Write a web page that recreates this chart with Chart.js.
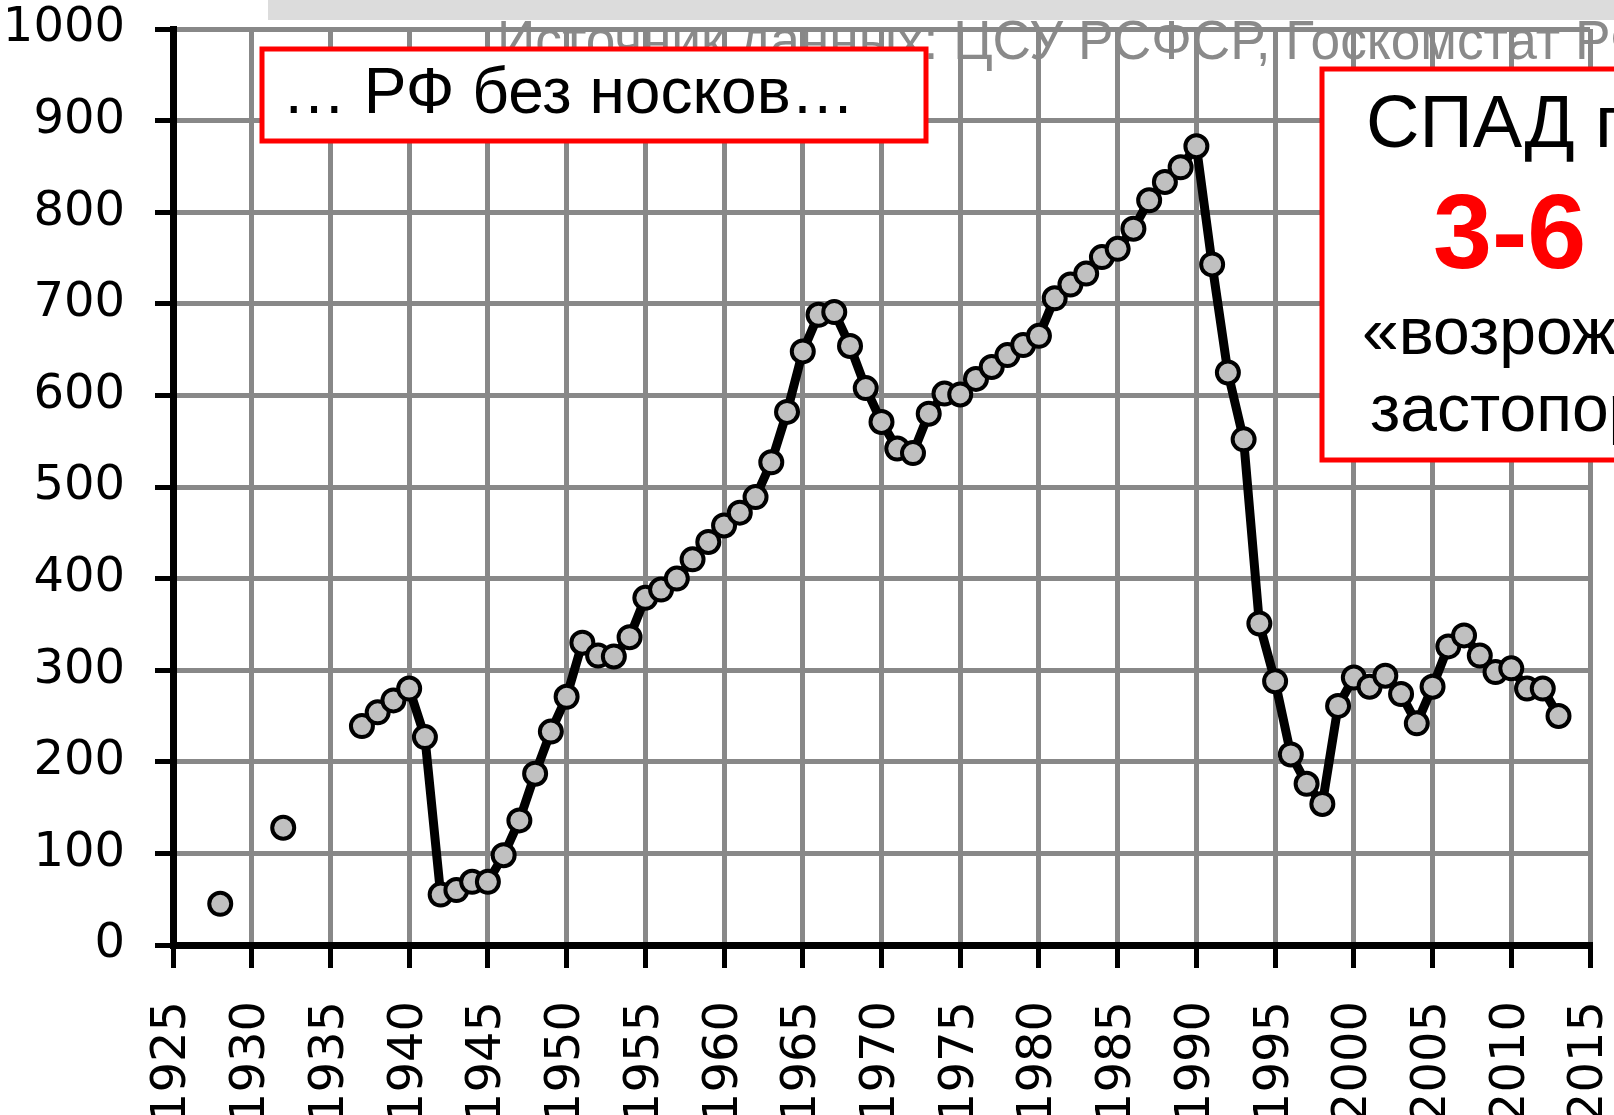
<!DOCTYPE html>
<html>
<head>
<meta charset="utf-8">
<script src="https://cdn.jsdelivr.net/npm/chart.js@4/dist/chart.umd.min.js"></script>
<style>
  html, body { margin: 0; padding: 0; background: #fff; }
  #wrap { width: 1614px; height: 1115px; }
</style>
</head>
<body>
<div id="wrap"><canvas id="chart"></canvas></div>
<script>
// Years and values (null = no data)
const years = [
  1928, 1929, 1930, 1931, 1932, 1933, 1934, 1935, 1936, 1937, 1938, 1939,
  1940, 1941, 1942, 1943, 1944, 1945, 1946, 1947, 1948, 1949, 1950, 1951,
  1952, 1953, 1954, 1955, 1956, 1957, 1958, 1959, 1960, 1961, 1962, 1963,
  1964, 1965, 1966, 1967, 1968, 1969, 1970, 1971, 1972, 1973, 1974, 1975,
  1976, 1977, 1978, 1979, 1980, 1981, 1982, 1983, 1984, 1985, 1986, 1987,
  1988, 1989, 1990, 1991, 1992, 1993, 1994, 1995, 1996, 1997, 1998, 1999,
  2000, 2001, 2002, 2003, 2004, 2005, 2006, 2007, 2008, 2009, 2010, 2011,
  2012, 2013
];
const values = [
  45, null, null, null, 128, null, null, null, null, 239, 254, 267,
  280, 227, 55, 60, 69, 69, 98, 136, 187, 233, 271, 330,
  316, 315, 336, 379, 388, 400, 421, 440, 458, 472, 489, 527,
  582, 648, 688, 691, 654, 608, 571, 542, 537, 580, 602, 601,
  618, 631, 644, 655, 665, 706, 721, 733, 751, 760, 782, 813,
  833, 849, 872, 743, 625, 552, 351, 288, 208, 176, 154, 261,
  292, 282, 294, 274, 242, 282, 326, 338, 316, 298, 302, 280,
  280, 250
];
const xTicks = [1925, 1930, 1935, 1940, 1945, 1950, 1955, 1960, 1965, 1970,
  1975, 1980, 1985, 1990, 1995, 2000, 2005, 2010, 2015];
const yTicks = [0, 100, 200, 300, 400, 500, 600, 700, 800, 900, 1000];

const sourceText = 'Источник данных: ЦСУ РСФСР, Госкомстат РФ';
const leftNote = '… РФ без носков…';
const rightNote = ['СПАД производства', '3-6 раз', '«возрождение»', 'застопорилось'];

// Build point list for the line
const points = years.map((y, i) => ({ x: y, y: values[i] }));

const tickFont = { family: '"DejaVu Sans", Verdana, sans-serif', size: 48, lineHeight: 1.2 };

// Gray band, source line and the two red boxes
const notes = {
  id: 'notes',
  beforeDraw(chart) {
    const ctx = chart.ctx;
    ctx.save();
    ctx.fillStyle = '#dcdcdc';
    ctx.fillRect(268, 0, 1400, 20);

    ctx.font = '56px "Liberation Sans", Arial, sans-serif';
    const lead = 'Источник данных: ЦСУ РСФСР, Госкомстат ';
    const sx = 1078 / ctx.measureText(lead).width;
    ctx.translate(497, 59);
    ctx.scale(sx, 1);
    ctx.fillStyle = '#8a8a8a';
    ctx.textBaseline = 'alphabetic';
    ctx.fillText(sourceText, 0, 0);
    ctx.restore();
  },
  afterDraw(chart) {
    const ctx = chart.ctx;
    ctx.save();
    ctx.lineWidth = 5;
    ctx.strokeStyle = '#ff0000';
    ctx.fillStyle = '#fff';

    // left box
    ctx.fillRect(262, 49, 664, 92);
    ctx.strokeRect(262, 49, 664, 92);
    ctx.fillStyle = '#000';
    ctx.textBaseline = 'alphabetic';
    ctx.font = '64px "Liberation Sans", Arial, sans-serif';
    ctx.fillText(leftNote, 282, 113);

    // right box
    ctx.fillStyle = '#fff';
    ctx.fillRect(1322, 69, 400, 391);
    ctx.strokeRect(1322, 69, 400, 391);
    ctx.fillStyle = '#000';
    ctx.font = '74px "Liberation Sans", Arial, sans-serif';
    ctx.fillText(rightNote[0], 1366, 147);
    ctx.fillStyle = '#ff0000';
    ctx.font = 'bold 106px "Liberation Sans", Arial, sans-serif';
    ctx.fillText(rightNote[1], 1433, 268);
    ctx.fillStyle = '#000';
    ctx.font = '66px "Liberation Sans", Arial, sans-serif';
    ctx.fillText(rightNote[2], 1362, 354);
    ctx.fillText(rightNote[3], 1370, 431);
    ctx.restore();
  }
};

new Chart(document.getElementById('chart'), {
  type: 'line',
  data: {
    datasets: [{
      data: points,
      borderColor: '#000',
      borderWidth: 9,
      pointRadius: 11,
      pointHoverRadius: 11,
      pointBackgroundColor: '#c0c0c0',
      pointBorderColor: '#000',
      pointBorderWidth: 4,
      tension: 0,
      spanGaps: false,
      clip: false
    }]
  },
  options: {
    responsive: true,
    maintainAspectRatio: false,
    animation: false,
    layout: { padding: { top: 29, right: 24, left: 0, bottom: 0 } },
    plugins: { legend: { display: false }, tooltip: { enabled: false } },
    scales: {
      x: {
        type: 'linear',
        min: 1925,
        max: 2015,
        afterBuildTicks: (scale) => { scale.ticks = xTicks.map(v => ({ value: v })); },
        afterFit: (scale) => {
          scale.height = 170;
          scale.paddingLeft = 0;
          scale.paddingRight = 0;
        },
        ticks: {
          minRotation: 90,
          maxRotation: 90,
          autoSkip: false,
          padding: 33,
          color: '#000',
          font: tickFont,
          callback: (v) => String(v)
        },
        grid: { color: '#888', lineWidth: 5, tickLength: 23, tickColor: '#000', tickWidth: 5 },
        border: { color: '#000', width: 7 }
      },
      y: {
        min: 0,
        max: 1000,
        afterBuildTicks: (scale) => { scale.ticks = yTicks.map(v => ({ value: v })); },
        afterFit: (scale) => {
          scale.width = 173;
          scale.paddingTop = 0;
          scale.paddingBottom = 0;
        },
        ticks: {
          padding: 30,
          color: '#000',
          font: tickFont,
          callback: (v) => String(v)
        },
        grid: { color: '#888', lineWidth: 5, tickLength: 18, tickColor: '#000', tickWidth: 5 },
        border: { color: '#000', width: 7 }
      }
    }
  },
  plugins: [notes]
});
</script>
</body>
</html>
